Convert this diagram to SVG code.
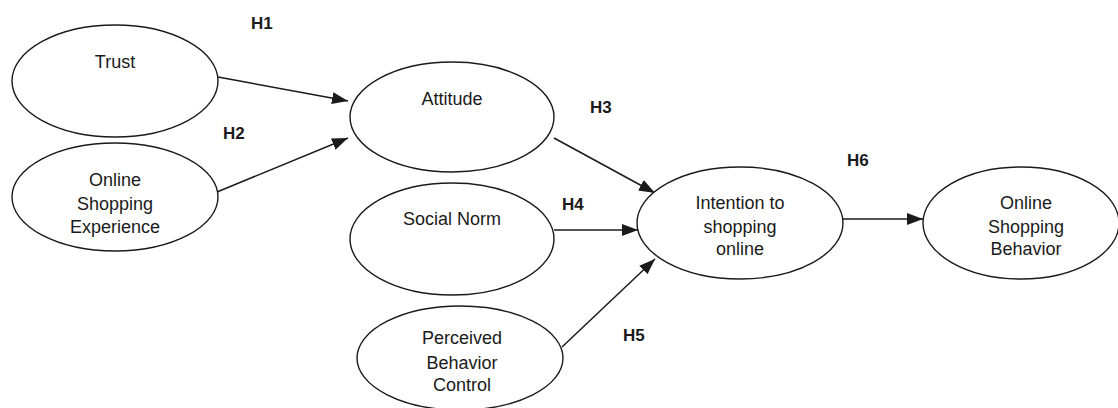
<svg xmlns="http://www.w3.org/2000/svg" width="1118" height="408" viewBox="0 0 1118 408">
  <style>
    .node ellipse { fill: #ffffff; stroke: #1a1a1a; stroke-width: 1.4; }
    .node text { font-family: "Liberation Sans", Arial, sans-serif; font-size: 18px; fill: #1a1a1a; text-anchor: middle; }
    .edge { stroke: #1a1a1a; stroke-width: 1.5; fill: none; marker-end: url(#arrow); }
    .hyp { font-family: "Liberation Sans", Arial, sans-serif; font-size: 17px; font-weight: bold; fill: #1a1a1a; }
  </style>
  <defs>
    <marker id="arrow" markerUnits="userSpaceOnUse" markerWidth="17" markerHeight="13" refX="16" refY="6" orient="auto">
      <path d="M0,0 L16,6 L0,12 z" fill="#1a1a1a"/>
    </marker>
  </defs>
  <rect width="1118" height="408" fill="#ffffff"/>

  <g id="connectors">
    <line class="edge" x1="218" y1="77" x2="348" y2="101"/>
    <line class="edge" x1="217" y1="192" x2="348" y2="138"/>
    <line class="edge" x1="554" y1="138" x2="655" y2="193"/>
    <line class="edge" x1="554" y1="230" x2="638" y2="230"/>
    <line class="edge" x1="562" y1="347" x2="655" y2="259"/>
    <line class="edge" x1="842" y1="219" x2="923" y2="219"/>
  </g>

  <g id="hypotheses">
    <text class="hyp" x="251" y="29">H1</text>
    <text class="hyp" x="223" y="139">H2</text>
    <text class="hyp" x="590" y="113">H3</text>
    <text class="hyp" x="562" y="210">H4</text>
    <text class="hyp" x="623" y="341">H5</text>
    <text class="hyp" x="847" y="166">H6</text>
  </g>

  <g id="trust" class="node">
    <ellipse cx="115" cy="81" rx="103" ry="56"/>
    <text x="115" y="68">Trust</text>
  </g>

  <g id="experience" class="node">
    <ellipse cx="115" cy="197" rx="103" ry="54"/>
    <text x="115" y="186">Online</text>
    <text x="115" y="210">Shopping</text>
    <text x="115" y="233">Experience</text>
  </g>

  <g id="attitude" class="node">
    <ellipse cx="452" cy="117" rx="102" ry="55"/>
    <text x="452" y="105">Attitude</text>
  </g>

  <g id="social-norm" class="node">
    <ellipse cx="452" cy="239" rx="102" ry="56"/>
    <text x="452" y="225">Social Norm</text>
  </g>

  <g id="behavior-control" class="node">
    <ellipse cx="460" cy="358" rx="103" ry="52"/>
    <text x="462" y="344">Perceived</text>
    <text x="462" y="369">Behavior</text>
    <text x="462" y="391">Control</text>
  </g>

  <g id="intention" class="node">
    <ellipse cx="740" cy="223" rx="103" ry="56"/>
    <text x="740" y="209">Intention to</text>
    <text x="740" y="233">shopping</text>
    <text x="740" y="255">online</text>
  </g>

  <g id="behavior" class="node">
    <ellipse cx="1021" cy="223" rx="98" ry="56"/>
    <text x="1026" y="209">Online</text>
    <text x="1026" y="233">Shopping</text>
    <text x="1026" y="255">Behavior</text>
  </g>
</svg>
